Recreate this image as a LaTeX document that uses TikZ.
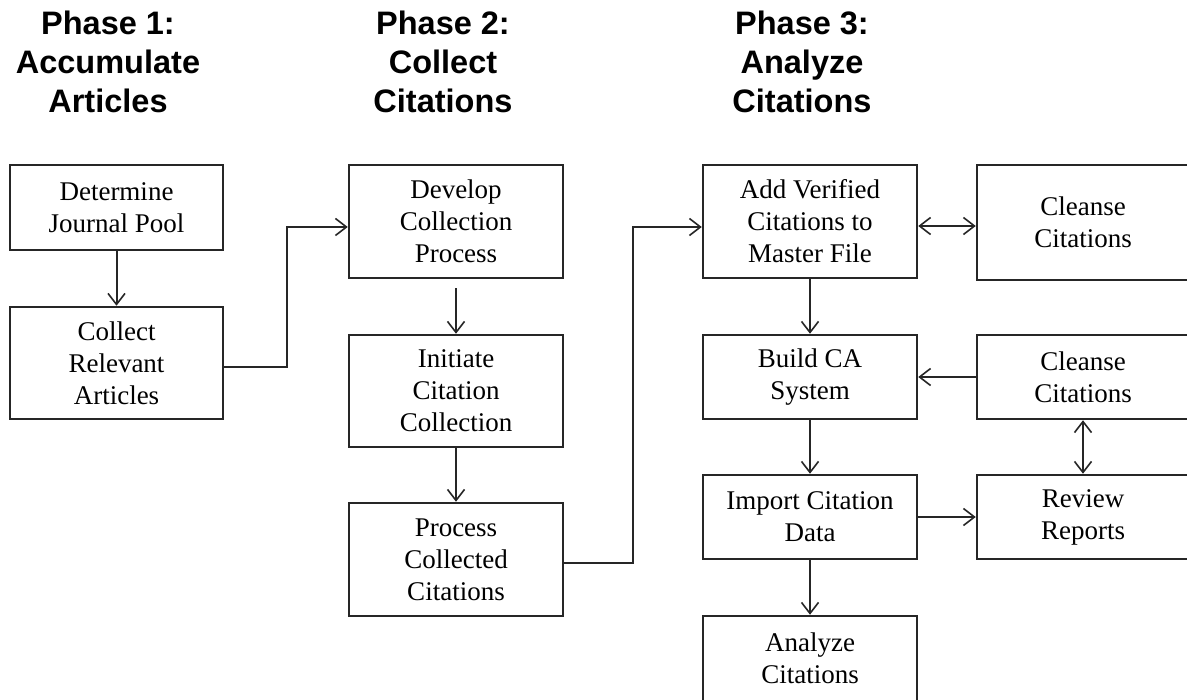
\documentclass[tikz,border=0pt]{standalone}
\usepackage{fontspec}
\setmainfont{Liberation Serif}
\newfontfamily\titlefont{Liberation Sans}
\usetikzlibrary{arrows.meta}
\tikzset{
  box/.style={draw=black!85, line width=2.5pt, align=center, inner sep=0pt,
    font=\fontsize{27}{32}\selectfont},
  ttl/.style={align=center, inner sep=0pt, font=\titlefont\bfseries\fontsize{32.5}{39}\selectfont},
  conn/.style={draw=black!85, line width=2pt},
  arr/.style={conn, -{Straight Barb[length=11pt,width=17pt,line width=1.6pt]}},
  darr/.style={conn, {Straight Barb[length=11pt,width=17pt,line width=1.6pt]}-{Straight Barb[length=11pt,width=17pt,line width=1.6pt]}}
}
\begin{document}
\begin{tikzpicture}[x=1pt,y=-1pt]
\useasboundingbox (0,0) rectangle (1187,700);
\clip (0,0) rectangle (1187,700);
\fill[white] (0,0) rectangle (1187,700);
% titles
\node[ttl] (t1) at (108,62) {Phase 1:\\Accumulate\\Articles};
\node[ttl] (t2) at (443,62) {Phase 2:\\Collect\\Citations};
\node[ttl] (t3) at (802,62) {Phase 3:\\Analyze\\Citations};
% phase 1
\node[box, minimum width=213pt, minimum height=85pt] (det) at (116.5,207.5) {Determine\\Journal Pool};
\node[box, minimum width=213pt, minimum height=112pt] (col) at (116.5,363) {Collect\\Relevant\\Articles};
% phase 2
\node[box, minimum width=214pt, minimum height=113pt] (dev) at (456,221.5) {Develop\\Collection\\Process};
\node[box, minimum width=214pt, minimum height=112pt] (ini) at (456,391) {Initiate\\Citation\\Collection};
\node[box, minimum width=214pt, minimum height=113pt] (pro) at (456,559.5) {Process\\Collected\\Citations};
% phase 3
\node[box, minimum width=214pt, minimum height=113pt] (add) at (810,221.5) {Add Verified\\Citations to\\Master File};
\node[box, minimum width=212pt, minimum height=115pt] (cl1) at (1083,222.5) {Cleanse\\Citations};
\node[box, minimum width=214pt, minimum height=84pt] (bui) at (810,377) {Build CA\\System};
\node[box, minimum width=212pt, minimum height=84pt] (cl2) at (1083,377) {Cleanse\\Citations};
\node[box, minimum width=214pt, minimum height=84pt] (imp) at (810,517) {Import Citation\\Data};
\node[box, minimum width=212pt, minimum height=84pt] (rev) at (1083,517) {Review\\Reports};
\node[box, minimum width=214pt, minimum height=85pt] (ana) at (810,658.5) {Analyze\\Citations};
% connectors
\draw[arr] (det) -- (col);
\draw[arr] ([yshift=-4pt]col.east) -| (287,290) |- ([yshift=-5.5pt]dev.west);
\draw[arr, shorten <=9pt] (dev) -- (ini);
\draw[arr] (ini) -- (pro);
\draw[arr] ([yshift=-3.5pt]pro.east) -| (633,400) |- ([yshift=-5.5pt]add.west);
\draw[darr] ([yshift=-4.5pt]add.east) -- ([yshift=-3.5pt]cl1.west);
\draw[arr] (add) -- (bui);
\draw[arr] (cl2) -- (bui);
\draw[arr] (bui) -- (imp);
\draw[darr] (rev.north) -- (cl2.south);
\draw[arr] (imp) -- (rev);
\draw[arr] (imp) -- (ana);
\end{tikzpicture}
\end{document}
